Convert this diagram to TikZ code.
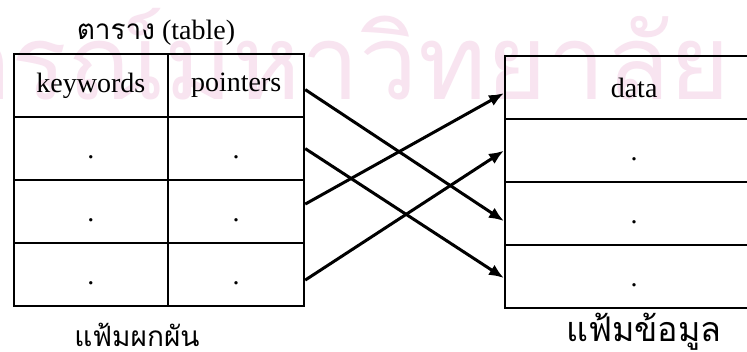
\documentclass[tikz,border=0pt]{standalone}
\usepackage{fontspec}
\setmainfont{Liberation Serif}
\newfontfamily\thaifont[Script=Thai]{Loma}
\usetikzlibrary{arrows.meta,calc}

\definecolor{wmark}{RGB}{248,228,240}

\tikzset{
  cellbox/.style={draw, line width=1.1pt, inner sep=0pt, anchor=north west,
    minimum height=31.5pt, font=\fontsize{14}{16}\selectfont},
  keycol/.style={cellbox, minimum width=77.25pt},
  ptrcol/.style={cellbox, minimum width=68pt},
  datcol/.style={cellbox, minimum width=129pt},
  celldot/.style={inner sep=0pt, font=\fontsize{14}{16}\selectfont},
  ptr/.style={line width=1.5pt, -{Latex[length=7.5pt,width=6pt]}},
  caption/.style={inner sep=0pt, font=\fontsize{14}{16}\selectfont},
}

\begin{document}
\begin{tikzpicture}[x=0.5pt,y=-0.5pt]
  \clip (0,0) rectangle (747,352);
  \fill[white] (0,0) rectangle (747,352);

  % faint background stamp
  \node[anchor=base east, text=wmark, inner sep=0pt,
        font=\thaifont\fontsize{52}{60}\selectfont] (stamp) at (731,100) {จุฬาลงกรณ์มหาวิทยาลัย};

  % index file: keywords / pointers
  \node[keycol] (k1) at (12.5,53)  {keywords};
  \node[ptrcol] (p1) at (167,53)   {pointers};
  \node[keycol] (k2) at (12.5,116) {};
  \node[ptrcol] (p2) at (167,116)  {};
  \node[keycol] (k3) at (12.5,179) {};
  \node[ptrcol] (p3) at (167,179)  {};
  \node[keycol] (k4) at (12.5,242) {};
  \node[ptrcol] (p4) at (167,242)  {};

  % data file
  \node[datcol] (d1) at (504,55)  {data};
  \node[datcol] (d2) at (504,118) {};
  \node[datcol] (d3) at (504,181) {};
  \node[datcol] (d4) at (504,244) {};

  % placeholder dots
  \foreach \c in {k2,k3,k4,p2,p3,p4,d2,d3,d4}
    \node[celldot] (\c dot) at ($(\c.center)+(0,8.5)$) {.};

  % pointers into the data file
  \draw[ptr] ($(p1.east)+(0,4)$)    -- ($(d3.west)+(0,7.5)$);
  \draw[ptr] ($(p2.east)+(0,0)$)    -- ($(d4.west)+(0,1.5)$);
  \draw[ptr] ($(p3.east)+(0,-7.5)$) -- ($(d1.west)+(0,5.5)$);
  \draw[ptr] ($(p4.east)+(0,5.5)$)  -- ($(d2.west)+(0,0)$);

  % captions
  \node[caption] (title) at (156,33) {{\thaifont ตาราง} (table)};
  \node[caption, font=\thaifont\fontsize{14}{16}\selectfont] (lblL) at (137,335) {แฟ้มผกผัน};
  \node[caption, font=\thaifont\fontsize{17}{20}\selectfont] (lblR) at (644,332) {แฟ้มข้อมูล};
\end{tikzpicture}
\end{document}
